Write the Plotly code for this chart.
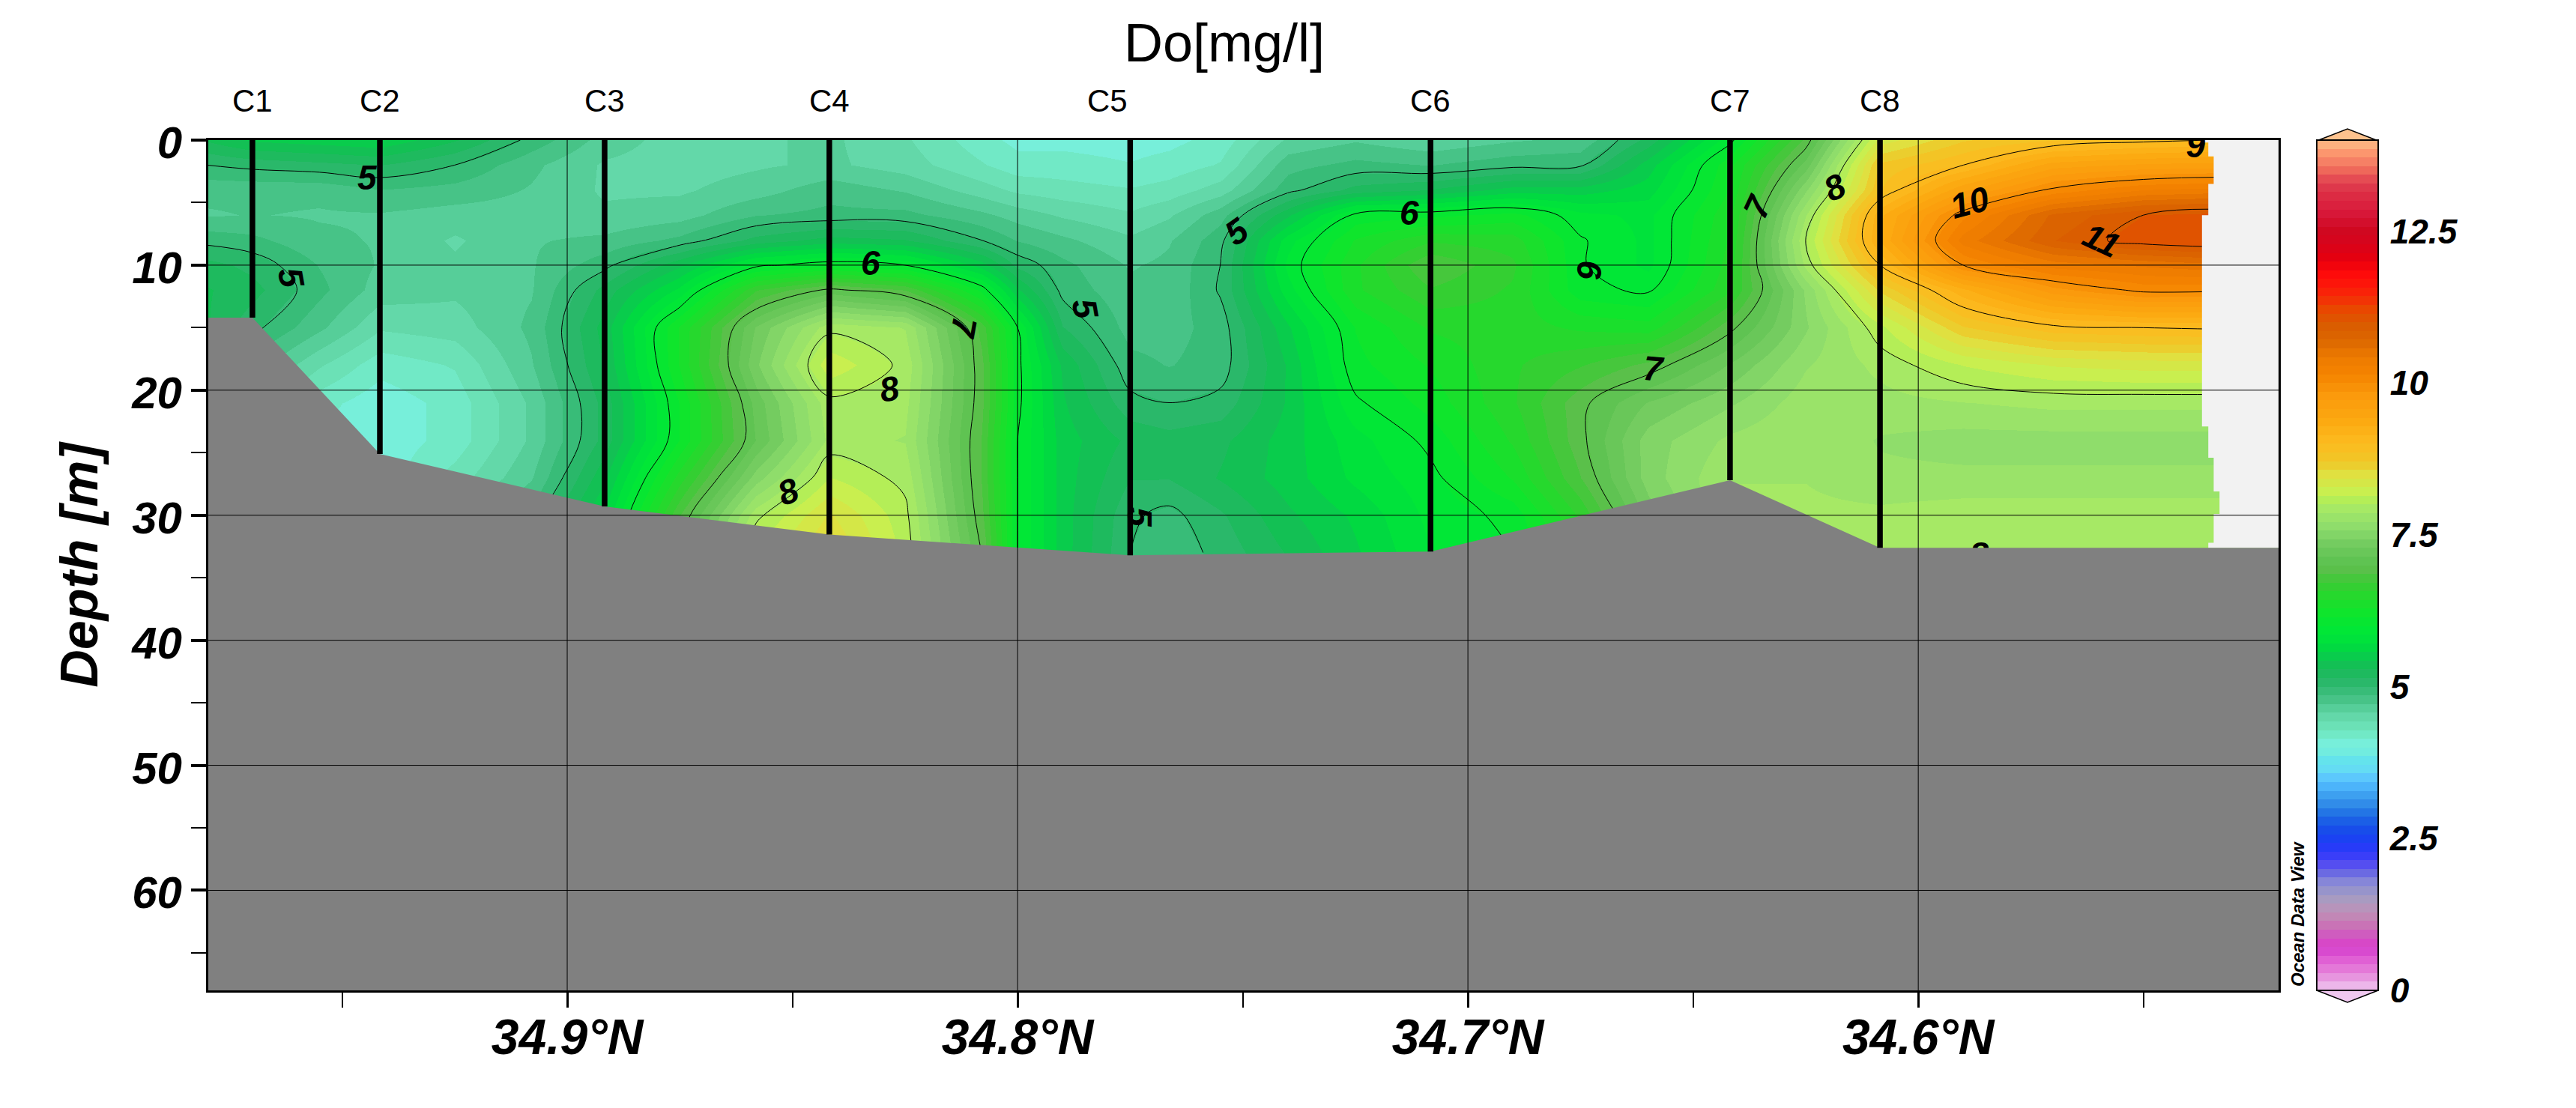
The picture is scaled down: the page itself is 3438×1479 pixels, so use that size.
import numpy as np
import plotly.graph_objects as go

FONT = "Liberation Sans"

# stations along the section
station_names = ["C1", "C2", "C3", "C4", "C5", "C6", "C7", "C8"]
station_lat = [34.9699, 34.9416, 34.8917, 34.8418, 34.775, 34.7083, 34.6418, 34.6085]
station_depth = [14.2, 25.1, 29.3, 31.55, 33.2, 32.9, 27.2, 32.6]
station_label_lat = [34.9699, 34.9416, 34.8917, 34.8418, 34.780, 34.7083, 34.6418, 34.6085]

# sea floor
floor_lat = [34.9797, 34.9699, 34.9416, 34.8917, 34.8418, 34.775, 34.7083, 34.6418, 34.6085, 34.52]
floor_depth = [14.2, 14.2, 25.1, 29.3, 31.55, 33.2, 32.9, 27.2, 32.6, 32.6]

# right hand limit of the gridded data
limit_depth = [0, 0.2, 1.3, 3.5, 6.0, 22.9, 25.4, 28.1, 29.9, 32.2, 32.6]
limit_lat = [34.537, 34.5356, 34.5344, 34.5356, 34.537, 34.5356, 34.5344, 34.5331, 34.5344, 34.5356, 34.5356]

# oxygen
grid_lat = [34.98, 34.97, 34.955, 34.9416, 34.925, 34.908, 34.8917, 34.875, 34.858, 34.8418,
            34.825, 34.808, 34.80, 34.79, 34.775, 34.7664, 34.755, 34.74, 34.725, 34.7083,
            34.69, 34.675, 34.66, 34.6418, 34.625, 34.6085, 34.59, 34.57, 34.55, 34.52]
grid_depth = [0, 2, 4, 6, 8, 10, 12, 15, 18, 21, 24, 27, 30, 33]
do_0m = [5.3, 5.45, 5.5, 5.55, 5.3, 4.95, 4.65, 4.5, 4.55, 4.6, 4.45, 4.2, 4.1, 4.1, 4.08, 4.1, 4.2, 4.6, 4.7, 4.6, 4.7, 4.75, 5.2, 5.95, 6.9, 8.35, 8.7, 8.85, 8.95, 9.05]
do_2m = [5.0, 5.05, 5.1, 5.15, 5.0, 4.75, 4.55, 4.5, 4.55, 4.6, 4.5, 4.3, 4.2, 4.2, 4.15, 4.2, 4.3, 4.8, 4.9, 4.85, 4.95, 4.97, 5.5, 6.25, 7.2, 8.75, 9.0, 9.5, 9.6, 9.65]
do_4m = [4.75, 4.75, 4.75, 4.85, 4.8, 4.7, 4.55, 4.55, 4.65, 4.8, 4.7, 4.5, 4.4, 4.35, 4.3, 4.35, 4.5, 4.95, 5.2, 5.3, 5.5, 5.5, 5.65, 6.3, 7.55, 8.85, 9.55, 10.05, 10.3, 10.4]
do_6m = [4.7, 4.72, 4.7, 4.7, 4.65, 4.65, 4.6, 4.65, 4.85, 4.9, 4.9, 4.75, 4.65, 4.55, 4.45, 4.55, 4.8, 5.4, 6.05, 6.1, 6.2, 5.9, 5.82, 6.4, 7.85, 9.25, 10.1, 10.75, 11.0, 11.1]
do_8m = [4.95, 4.9, 4.75, 4.7, 4.55, 4.7, 4.75, 4.9, 5.2, 5.35, 5.3, 5.0, 4.85, 4.75, 4.6, 4.7, 4.95, 5.8, 6.3, 6.55, 6.5, 6.02, 5.82, 6.45, 8.0, 9.3, 10.35, 10.85, 11.1, 11.2]
do_10m = [5.2, 5.1, 4.85, 4.7, 4.6, 4.7, 4.95, 5.4, 5.95, 6.1, 6.0, 5.5, 5.1, 4.9, 4.7, 4.75, 5.0, 5.9, 6.4, 6.85, 6.6, 6.02, 5.82, 6.5, 7.9, 9.0, 10.0, 10.35, 10.45, 10.6]
do_12m = [5.3, 5.2, 4.9, 4.65, 4.6, 4.7, 5.2, 5.75, 6.7, 7.05, 6.85, 6.1, 5.45, 4.95, 4.75, 4.75, 5.02, 5.8, 6.4, 6.7, 6.55, 6.05, 5.97, 6.55, 7.6, 8.6, 9.25, 9.8, 10.05, 10.0]
do_15m = [5.3, 5.05, 4.75, 4.45, 4.5, 4.75, 5.35, 6.3, 7.3, 7.95, 7.85, 6.8, 6.0, 5.15, 4.8, 4.8, 4.92, 5.55, 6.15, 6.45, 6.5, 6.4, 6.35, 6.95, 7.55, 8.1, 8.7, 8.95, 9.0, 9.05]
do_18m = [5.3, 4.8, 4.45, 4.2, 4.3, 4.7, 5.3, 6.3, 7.4, 8.25, 7.95, 6.9, 6.05, 5.4, 4.9, 4.85, 4.92, 5.45, 6.1, 6.3, 6.55, 6.7, 6.9, 7.3, 7.7, 7.9, 8.15, 8.3, 8.35, 8.35]
do_21m = [5.0, 4.5, 4.2, 4.05, 4.2, 4.6, 5.2, 6.15, 7.2, 7.95, 7.9, 6.9, 6.05, 5.45, 5.05, 5.0, 5.05, 5.45, 5.97, 6.2, 6.55, 6.95, 7.3, 7.55, 7.8, 7.8, 7.85, 7.9, 7.9, 7.9]
do_24m = [4.6, 4.2, 4.1, 4.05, 4.2, 4.6, 5.2, 6.15, 7.15, 7.9, 7.85, 6.85, 6.0, 5.5, 5.25, 5.2, 5.25, 5.5, 5.8, 6.05, 6.45, 6.95, 7.5, 7.75, 7.85, 7.7, 7.65, 7.65, 7.65, 7.65]
do_27m = [4.3, 4.1, 4.1, 4.05, 4.35, 4.7, 5.4, 6.5, 7.5, 8.15, 7.95, 6.85, 6.0, 5.5, 5.15, 5.15, 5.3, 5.5, 5.75, 5.95, 6.3, 6.85, 7.5, 7.85, 7.85, 7.75, 7.75, 7.75, 7.75, 7.75]
do_30m = [4.2, 4.1, 4.1, 4.1, 4.6, 4.9, 5.6, 6.85, 7.95, 8.45, 8.05, 6.9, 6.0, 5.5, 5.03, 4.95, 5.12, 5.4, 5.6, 5.9, 6.05, 6.6, 7.35, 7.9, 7.9, 7.9, 7.95, 7.95, 7.95, 7.95]
do_33m = [4.2, 4.1, 4.1, 4.2, 4.8, 5.0, 5.8, 7.0, 8.2, 8.6, 8.1, 7.0, 6.0, 5.5, 5.0, 4.9, 5.05, 5.3, 5.55, 5.85, 6.0, 6.4, 7.1, 7.9, 7.95, 8.0, 7.98, 8.0, 8.0, 8.0]
do_grid = [do_0m, do_2m, do_4m, do_6m, do_8m, do_10m, do_12m, do_15m, do_18m, do_21m, do_24m, do_27m, do_30m, do_33m]

# contour labels: text, lat, depth, rotation
label_text = ["5", "5", "6", "7", "8", "8", "5", "5", "6", "6", "7", "7", "5", "8", "10", "11"]
label_lat = [34.9444, 34.9612, 34.8326, 34.812, 34.8285, 34.8509, 34.785, 34.7514, 34.713, 34.673, 34.6587, 34.6356, 34.7729, 34.6185, 34.5885, 34.5592]
label_depth = [3.0, 11.0, 9.8, 15.0, 19.9, 28.1, 13.5, 7.3, 5.8, 10.4, 18.3, 5.3, 30.2, 3.8, 5.0, 8.0]
label_angle = [0, 80, 0, 100, -10, -20, 80, -35, 0, 90, 5, -65, 90, -25, -15, 25]
# these two get cut by the frame / the floor
cut_text = ["9", "8"]
cut_lat = [34.5384, 34.5865]
cut_depth = [0.7, 33.4]

# axes
lat_major = [34.9, 34.8, 34.7, 34.6]
lat_minor = [34.95, 34.85, 34.75, 34.65, 34.55]
lat_text = ["34.9°N", "34.8°N", "34.7°N", "34.6°N"]
depth_major = [0, 10, 20, 30, 40, 50, 60]
depth_minor = [5, 15, 25, 35, 45, 55, 65]
bar_ticks = [0, 2.5, 5, 7.5, 10, 12.5]
bar_text = ["0", "2.5", "5", "7.5", "10", "12.5"]

# ODV style palette, value -> colour
pal_value = [0, 0.1, 0.2, 0.36, 0.5, 0.62, 0.74, 0.83, 1.0, 1.1, 1.28, 1.47, 1.6, 1.78, 1.9, 2.06, 2.27, 2.47,
             2.68, 2.9, 3.0, 3.17, 3.3, 3.4, 3.5, 3.64, 3.8, 3.9, 4.06, 4.26, 4.43, 4.6, 4.7, 4.93, 5.05, 5.3,
             5.45, 5.67, 5.9, 6.2, 6.45, 6.7, 6.94, 7.1, 7.35, 7.6, 7.9, 8.07, 8.2, 8.5, 8.7, 9.0, 9.4, 9.8,
             10.15, 10.4, 10.7, 10.95, 11.2, 11.3, 11.55, 11.8, 12.05, 12.3, 12.5, 12.8, 13.05, 13.3, 13.45,
             13.57, 13.7, 13.85, 14]
pal_color = ["#f0c8f0", "#ecb0e8", "#e898e0", "#e478d8", "#e060d4", "#d84cd0", "#dc44cc", "#d44cc4", "#cc68bc",
             "#c878b4", "#c090b8", "#ac9cc0", "#9c98c8", "#8888d8", "#7070e0", "#5850f0", "#3038fc", "#1c40f4",
             "#1850e8", "#2070e4", "#2c84e8", "#3898ec", "#48b0f8", "#50b8fc", "#5cc8fc", "#64dcf4", "#64e4ec",
             "#70ece0", "#78f0dc", "#70e8c0", "#68dcb0", "#5cd4a0", "#50c890", "#38bc78", "#2cb86c", "#18bc58",
             "#0cc850", "#00dc40", "#00e838", "#0ee62c", "#22dc2c", "#3acc34", "#5cc04c", "#60c454", "#74cc60",
             "#8cdc6c", "#a4e868", "#b4ee58", "#c8f050", "#e0e040", "#f0c828", "#fcbc20", "#fca810", "#fb9a0c",
             "#f58400", "#ee7c00", "#dc6800", "#da5c00", "#e84a00", "#f03a04", "#fc1c0a", "#ff0a0a", "#e6000f",
             "#d8041c", "#d00820", "#d8183a", "#dc2a42", "#e04050", "#ee6058", "#f2745e", "#fa8a6c", "#ffa070",
             "#fdc28e"]


def stepped_scale(n_bands=98):
    rgb = np.array([[int(c[i:i + 2], 16) for i in (1, 3, 5)] for c in pal_color], dtype=float)
    edges = np.linspace(0, 14, n_bands + 1)
    mids = (edges[:-1] + edges[1:]) / 2
    scale = []
    for k, m in enumerate(mids):
        col = "rgb(%d,%d,%d)" % tuple(np.interp(m, pal_value, rgb[:, j]) for j in range(3))
        scale.append([edges[k] / 14, col])
        scale.append([edges[k + 1] / 14, col])
    return scale


# pixel -> paper, the frame runs 278..3041 by 187..1322
def paper_x(px):
    return (px - 278) / (3041 - 278)


def paper_y(py):
    return (1322 - py) / (1322 - 187)


fig = go.Figure()

fig.add_trace(go.Heatmap(x=grid_lat, y=grid_depth, z=do_grid, zsmooth="best", zmin=0, zmax=14,
                         colorscale=stepped_scale(), hoverinfo="skip",
                         colorbar=dict(x=paper_x(3092), xanchor="left", y=0.5, yanchor="middle", len=1,
                                       thicknessmode="pixels", thickness=82, xpad=0, ypad=0,
                                       outlinecolor="black", outlinewidth=2, tickmode="array",
                                       tickvals=bar_ticks, ticktext=bar_text, ticks="outside", ticklen=6,
                                       tickcolor="rgba(0,0,0,0)",
                                       tickfont=dict(family=FONT, size=46, weight="bold", style="italic", color="black"))))

fig.add_trace(go.Contour(x=grid_lat, y=grid_depth, z=do_grid, showscale=False, hoverinfo="skip",
                         contours=dict(type="levels", start=5, end=11, size=1, coloring="none"),
                         line=dict(color="black", width=1, smoothing=1)))

# no data beyond the last grid cells
fig.add_trace(go.Scatter(x=limit_lat + [34.52, 34.52], y=limit_depth + [32.6, 0], mode="lines",
                         line=dict(width=0, shape="vh"), fill="toself", fillcolor="#f2f2f2", hoverinfo="skip"))

fig.add_trace(go.Scatter(x=cut_lat, y=cut_depth, mode="text", text=cut_text, hoverinfo="skip", cliponaxis=True,
                         textfont=dict(family=FONT, size=46, weight="bold", style="italic", color="black")))

fig.add_trace(go.Scatter(x=floor_lat + [34.52, 34.9797], y=floor_depth + [68, 68], mode="lines",
                         line=dict(width=0), fill="toself", fillcolor="#808080", hoverinfo="skip"))

for lat, depth in zip(station_lat, station_depth):
    fig.add_trace(go.Scatter(x=[lat, lat], y=[0, depth], mode="lines",
                             line=dict(color="black", width=7.5), hoverinfo="skip"))

# grid sits on top of everything in ODV
shapes = []
for lat in lat_major:
    shapes.append(dict(type="line", xref="x", yref="paper", x0=lat, x1=lat, y0=0, y1=1, layer="above",
                       line=dict(color="black", width=1)))
for depth in depth_major[1:]:
    shapes.append(dict(type="line", xref="paper", yref="y", x0=0, x1=1, y0=depth, y1=depth, layer="above",
                       line=dict(color="black", width=1)))
# colour bar end caps
shapes.append(dict(type="path", xref="paper", yref="paper", fillcolor="#fdc28e", line=dict(color="black", width=1.5),
                   path="M %f %f L %f %f L %f %f Z" % (paper_x(3092), paper_y(188), paper_x(3133), paper_y(172),
                                                       paper_x(3174), paper_y(188))))
shapes.append(dict(type="path", xref="paper", yref="paper", fillcolor="#f0c8f0", line=dict(color="black", width=1.5),
                   path="M %f %f L %f %f L %f %f Z" % (paper_x(3092), paper_y(1322), paper_x(3133), paper_y(1338),
                                                       paper_x(3174), paper_y(1322))))

annotations = []
for name, lat in zip(station_names, station_label_lat):
    annotations.append(dict(text=name, x=lat, y=paper_y(135), xref="x", yref="paper", showarrow=False,
                            xanchor="center", yanchor="middle",
                            font=dict(family=FONT, size=42, color="black")))
for text, lat, depth, angle in zip(label_text, label_lat, label_depth, label_angle):
    annotations.append(dict(text=text, x=lat, y=depth, xref="x", yref="y", showarrow=False, textangle=angle,
                            font=dict(family=FONT, size=46, weight="bold", style="italic", color="black")))
annotations.append(dict(text="Ocean Data View", x=paper_x(3066), y=paper_y(1220), xref="paper", yref="paper",
                        showarrow=False, textangle=-90, xanchor="center", yanchor="middle",
                        font=dict(family=FONT, size=24, weight="bold", style="italic", color="black")))

fig.update_layout(
    width=3438, height=1479, margin=dict(l=278, r=397, t=187, b=157, pad=0),
    paper_bgcolor="white", plot_bgcolor="#f2f2f2", showlegend=False,
    title=dict(text="Do[mg/l]", x=1634 / 3438, xanchor="center", y=1 - 57 / 1479, yanchor="middle",
               font=dict(family=FONT, size=72, color="black")),
    shapes=shapes, annotations=annotations,
)
fig.update_xaxes(range=[34.9797, 34.52], tickmode="array", tickvals=lat_major, ticktext=lat_text,
                 ticks="outside", ticklen=20, tickwidth=3, tickcolor="black", showgrid=False, zeroline=False,
                 showline=True, mirror=True, linecolor="black", linewidth=3, ticklabelstandoff=-17,
                 tickfont=dict(family=FONT, size=66, weight="bold", style="italic", color="black"),
                 minor=dict(tickmode="array", tickvals=lat_minor, ticks="outside", ticklen=20, tickwidth=1.5,
                            tickcolor="black", showgrid=False))
fig.update_yaxes(range=[68, 0], tickmode="array", tickvals=depth_major, ticks="outside", ticklen=20, tickwidth=3.5,
                 tickcolor="black", showgrid=False, zeroline=False, showline=True, mirror=True,
                 linecolor="black", linewidth=3, ticklabelshift=-3,
                 tickfont=dict(family=FONT, size=60, weight="bold", style="italic", color="black"),
                 minor=dict(tickmode="array", tickvals=depth_minor, ticks="outside", ticklen=20, tickwidth=1.5,
                            tickcolor="black", showgrid=False),
                 title=dict(text="Depth [m]", standoff=22,
                            font=dict(family=FONT, size=70, weight="bold", style="italic", color="black")))

# the page margin would push the figure off by 8px
fig.write_html("out.html", config={"displayModeBar": False}, post_script="document.body.style.margin='0';")
